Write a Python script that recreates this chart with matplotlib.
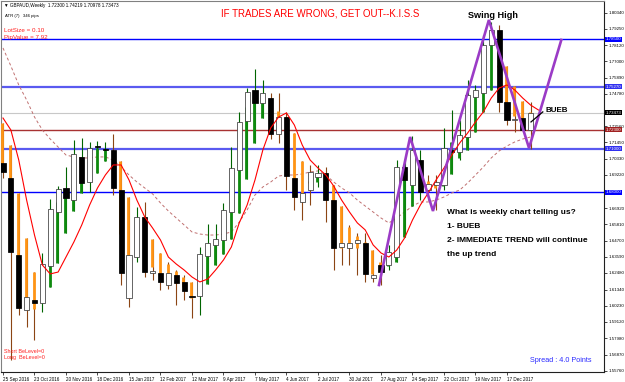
import matplotlib
matplotlib.use("Agg")
import matplotlib.pyplot as plt
import matplotlib.transforms as mtransforms
import numpy as np

# ---------------- data (GBPAUD weekly) ----------------
opens = [1.7003, 1.6900, 1.6371, 1.5993, 1.6062, 1.6041, 1.6295, 1.6666, 1.6831, 1.6748,
         1.7044, 1.6872, 1.7119, 1.7099, 1.7092, 1.6817, 1.6076, 1.6357, 1.6631, 1.6247,
         1.6247, 1.6165, 1.6233, 1.6186, 1.6090, 1.6090, 1.6364, 1.6439, 1.6474, 1.6666,
         1.6954, 1.7291, 1.7503, 1.7414, 1.7449, 1.7202, 1.7318, 1.6900, 1.6734, 1.6817,
         1.6906, 1.6934, 1.6748, 1.6426, 1.6419, 1.6453, 1.6453, 1.6213, 1.6302, 1.6302,
         1.6357, 1.6975, 1.6851, 1.7023, 1.6817, 1.6851, 1.6851, 1.7092, 1.7078, 1.7181,
         1.7455, 1.7483, 1.7812, 1.7915, 1.7421, 1.7298, 1.7311, 1.72300]
highs = [1.7037, 1.6920, 1.6405, 1.6131, 1.6117, 1.6384, 1.6755, 1.6844, 1.6975, 1.7160,
         1.7174, 1.7147, 1.7154, 1.7147, 1.7202, 1.6844, 1.6405, 1.6700, 1.6734, 1.6439,
         1.6371, 1.6323, 1.6268, 1.6233, 1.6179, 1.6426, 1.6583, 1.6583, 1.6727, 1.7113,
         1.7353, 1.7517, 1.7647, 1.7572, 1.7483, 1.7483, 1.7353, 1.6954, 1.6838, 1.6989,
         1.6989, 1.6975, 1.6817, 1.6508, 1.6577, 1.6522, 1.6522, 1.6323, 1.6371, 1.6439,
         1.7023, 1.7037, 1.7188, 1.7092, 1.6920, 1.6920, 1.7243, 1.7366, 1.7298, 1.7572,
         1.7538, 1.7881, 1.7970, 1.7950, 1.7593, 1.7483, 1.7366, 1.74219]
lows = [1.6900, 1.5650, 1.5959, 1.5877, 1.5788, 1.5980, 1.6186, 1.6597, 1.6714, 1.6714,
        1.6817, 1.6803, 1.7023, 1.7037, 1.6782, 1.6165, 1.6014, 1.6323, 1.6220, 1.6199,
        1.6131, 1.6138, 1.6028, 1.6062, 1.5939, 1.5959, 1.6323, 1.6316, 1.6460, 1.6611,
        1.6920, 1.7243, 1.7366, 1.7380, 1.7168, 1.7140, 1.6817, 1.6679, 1.6611, 1.6714,
        1.6838, 1.6597, 1.6268, 1.6302, 1.6302, 1.6233, 1.6186, 1.6186, 1.6165, 1.6268,
        1.6323, 1.6782, 1.6782, 1.6748, 1.6748, 1.6679, 1.6817, 1.7044, 1.7023, 1.7160,
        1.7435, 1.7435, 1.7689, 1.7353, 1.7263, 1.7215, 1.7215, 1.70978]
closes = [1.6941, 1.6391, 1.6007, 1.6083, 1.6041, 1.6309, 1.6686, 1.6824, 1.6762, 1.7064,
          1.6865, 1.7106, 1.7113, 1.7092, 1.6831, 1.6247, 1.6371, 1.6631, 1.6254, 1.6261,
          1.6186, 1.6247, 1.6179, 1.6124, 1.6083, 1.6378, 1.6453, 1.6481, 1.6679, 1.6968,
          1.7284, 1.7490, 1.7414, 1.7483, 1.7202, 1.7318, 1.6913, 1.6769, 1.6796, 1.6941,
          1.6934, 1.6748, 1.6419, 1.6453, 1.6453, 1.6474, 1.6240, 1.6233, 1.6254, 1.6391,
          1.6975, 1.6886, 1.7092, 1.6803, 1.6858, 1.6872, 1.7106, 1.7078, 1.7195, 1.7469,
          1.7503, 1.7812, 1.7915, 1.7421, 1.7298, 1.7304, 1.7229, 1.73473]
ha_open_start = 1.7277  # Heiken Ashi open of the first visible bar

# red moving average (one bar longer: drawn shifted)
ma_fast = [1.7311, 1.7229, 1.7023, 1.6748, 1.6508, 1.6302, 1.6241, 1.6254, 1.6357, 1.6460,
           1.6577, 1.6714, 1.6831, 1.6920, 1.6989, 1.6989, 1.6886, 1.6748, 1.6632, 1.6556,
           1.6474, 1.6357, 1.6309, 1.6268, 1.6220, 1.6186, 1.6206, 1.6268, 1.6337, 1.6426,
           1.6591, 1.6714, 1.6886, 1.7092, 1.7243, 1.7318, 1.7346, 1.7263, 1.7126, 1.7023,
           1.6968, 1.6920, 1.6844, 1.6748, 1.6666, 1.6591, 1.6543, 1.6440, 1.6385, 1.6357,
           1.6405, 1.6488, 1.6611, 1.6714, 1.6797, 1.6886, 1.6968, 1.7057, 1.7140, 1.7208,
           1.7284, 1.7353, 1.7448, 1.7517, 1.7538, 1.7503, 1.7448, 1.7400, 1.7366]
# dashed slow moving average
ma_slow = [1.7792, 1.7668, 1.7538, 1.7435, 1.7318, 1.7229, 1.7167, 1.7112, 1.7057, 1.7044,
           1.7037, 1.7037, 1.7044, 1.7044, 1.7023, 1.6975, 1.6920, 1.6872, 1.6831, 1.6790,
           1.6728, 1.6673, 1.6625, 1.6577, 1.6529, 1.6515, 1.6508, 1.6508, 1.6515, 1.6529,
           1.6597, 1.6680, 1.6783, 1.6838, 1.6872, 1.6913, 1.6920, 1.6920, 1.6927, 1.6941,
           1.6948, 1.6920, 1.6872, 1.6831, 1.6797, 1.6748, 1.6707, 1.6666, 1.6625, 1.6591,
           1.6625, 1.6666, 1.6707, 1.6735, 1.6735, 1.6748, 1.6769, 1.6797, 1.6817, 1.6865,
           1.6920, 1.6975, 1.7037, 1.7085, 1.7119, 1.7147, 1.7167, 1.7181]

date_labels = ["25 Sep 2016", "23 Oct 2016", "20 Nov 2016", "18 Dec 2016", "15 Jan 2017",
               "12 Feb 2017", "12 Mar 2017", "9 Apr 2017", "7 May 2017", "4 Jun 2017",
               "2 Jul 2017", "30 Jul 2017", "27 Aug 2017", "24 Sep 2017", "22 Oct 2017",
               "19 Nov 2017", "17 Dec 2017"]
date_label_bars = list(range(0, 68, 4))

# price-scale labels (those hidden under the level boxes are left out)
price_ticks = [1.80340, 1.79250, 1.78120, 1.77000, 1.75890, 1.74780, 1.72560,
               1.71450, 1.70330, 1.69220, 1.66920, 1.65810, 1.64700, 1.63590,
               1.62480, 1.61340, 1.60230, 1.59120, 1.57980, 1.56870, 1.55760]

levels = [1.78500, 1.75270, 1.73473, 1.72300, 1.71000, 1.68000]
level_colors = ["#0000FF", "#5A5AF0", "#C8C8C8", "#A83232", "#5A5AF0", "#0000FF"]
level_widths = [1.0, 1.6, 0.8, 1.0, 1.6, 1.0]
level_box = ["#0000FF", "#3030F0", "#000000", "#A02020", "#3030F0", "#0000FF"]

zigzag_bar = [47.75, 51.7, 54.6, 61.7, 66.8, 70.9]
zigzag_price = [1.6165, 1.7181, 1.6673, 1.7984, 1.7105, 1.7847]
arrow_bar = [67.05, 68.55]
arrow_price = [1.7284, 1.7353]

# ---------------- figure ----------------
W, H = 625, 382
fig = plt.figure(figsize=(W / 100, H / 100), dpi=100)
fig.patch.set_facecolor("white")
ax = fig.add_axes([1.5 / W, 1 - 371.7 / H, (604 - 1.5) / W, (371.7 - 1) / H])
ax.set_facecolor("white")

n = len(opens)
x = np.arange(n)
o = np.array(opens); h = np.array(highs); l = np.array(lows); c = np.array(closes)

# Heiken Ashi overlay
ha_c = (o + h + l + c) / 4.0
ha_o = np.empty(n)
ha_o[0] = ha_open_start
for i in range(1, n):
    ha_o[i] = (ha_o[i - 1] + ha_c[i - 1]) / 2.0
ha_hi = np.maximum(h, np.maximum(ha_o, ha_c))
ha_lo = np.minimum(l, np.minimum(ha_o, ha_c))
bull_ha = ha_c >= ha_o
wick_col = np.where(bull_ha, "#006400", "#8B4513")
body_col = np.where(bull_ha, "#0E8A0E", "#FF9414")

ax.vlines(x, ha_lo, ha_hi, colors=wick_col, linewidth=0.8, zorder=3)
ax.vlines(x - 0.08, np.minimum(ha_o, ha_c), np.maximum(ha_o, ha_c), colors=body_col,
          linewidth=2.0, zorder=3)

# real candles
bull = c >= o
bh = np.maximum(np.abs(c - o), 0.00025)
ax.bar(x, bh, bottom=np.minimum(o, c), width=0.64,
       color=np.where(bull, "white", "black"),
       edgecolor=np.where(bull, "#3A3A3A", "black"), linewidth=0.55, zorder=4)

# horizontal levels
for lv, col, lw in zip(levels, level_colors, level_widths):
    ax.axhline(lv, color=col, linewidth=lw, zorder=1)

# moving averages
ax.plot(np.arange(len(ma_slow)), ma_slow, color="#C07070", linewidth=0.7,
        dashes=(3, 2.5), zorder=2)
ax.plot(np.arange(len(ma_fast)), ma_fast, color="#FF0000", linewidth=0.8, zorder=5)

# purple zigzag and arrow
ax.plot(zigzag_bar, zigzag_price, color="#9B3BC6", linewidth=1.9, zorder=6,
        solid_joinstyle="miter")
ax.plot(arrow_bar, arrow_price, color="black", linewidth=0.9, zorder=6)

ax.set_xlim(-0.19, 76.32)
ax.set_ylim(1.55700, 1.81142)

# axes styling
for s in ["top", "left"]:
    ax.spines[s].set_color("#808080")
    ax.spines[s].set_linewidth(0.8)
for s in ["right", "bottom"]:
    ax.spines[s].set_color("#202020")
    ax.spines[s].set_linewidth(0.8)

fam = ["Liberation Sans", "DejaVu Sans"]
ax.yaxis.tick_right()
ax.set_yticks(price_ticks)
ax.set_yticklabels([f"{p:.5f}" for p in price_ticks], fontsize=3.2, family=fam)
ax.tick_params(axis="y", length=2, width=0.5, pad=1, colors="black")
ax.set_xticks(date_label_bars)
ax.set_xticklabels(date_labels, fontsize=3.3, ha="left", family=fam)
ax.tick_params(axis="x", length=2, width=0.5, pad=1.5, colors="black")

# level boxes on the price scale
trans = mtransforms.blended_transform_factory(ax.transAxes, ax.transData)
for lv, bc in zip(levels, level_box):
    ax.text(1.003, lv, f"{lv:.5f}", transform=trans, fontsize=3.2, color="white",
            ha="left", va="center", family=fam,
            bbox=dict(boxstyle="square,pad=0.15", fc=bc, ec="none"), zorder=10,
            clip_on=False)

def ftext(px, py, s, **kw):
    fig.text(px / W, 1 - py / H, s, family=fam, **kw)

ftext(4, 6, f"\u25BC GBPAUD,Weekly  {opens[-1]:.5f} {highs[-1]:.5f} {lows[-1]:.5f} {closes[-1]:.5f}",
      fontsize=3.3, va="center", ha="left", color="black")
ftext(5, 16.5, "ATR (7)   346 pips", fontsize=3.1, va="center", ha="left", color="black")
ftext(4, 30, "LotSize = 0.10", fontsize=4.5, va="center", ha="left", color="#FF2020")
ftext(4, 37.5, "PipValue = 7.92", fontsize=4.5, va="center", ha="left", color="#FF2020")
ftext(320, 13, "IF TRADES ARE WRONG, GET OUT--K.I.S.S", fontsize=7, va="center",
      ha="center", color="#FF0000")
ftext(493, 15, "Swing High", fontsize=6.6, va="center", ha="center", color="black",
      fontweight="bold")
ftext(545, 111, "BUEB", fontsize=5.8, va="center", ha="left", color="black",
      fontweight="bold")
ftext(447, 213, "What is weekly chart telling us?", fontsize=6, va="center", ha="left",
      color="black", fontweight="bold")
ftext(447, 227, "1- BUEB", fontsize=6, va="center", ha="left", color="black",
      fontweight="bold")
ftext(447, 241, "2- IMMEDIATE TREND will continue", fontsize=6, va="center", ha="left",
      color="black", fontweight="bold")
ftext(447, 254, "the up trend", fontsize=6, va="center", ha="left", color="black",
      fontweight="bold")
ftext(530, 361, "Spread : 4.0 Points", fontsize=5.2, va="center", ha="left",
      color="#2B2BFF")
ftext(4, 351.5, "Short BeLevel=0", fontsize=3.9, va="center", ha="left", color="#FF2020")
ftext(4, 357.5, "Long  BeLevel=0", fontsize=3.9, va="center", ha="left", color="#FF2020")

fig.savefig("out.png", dpi=100, facecolor="white")
